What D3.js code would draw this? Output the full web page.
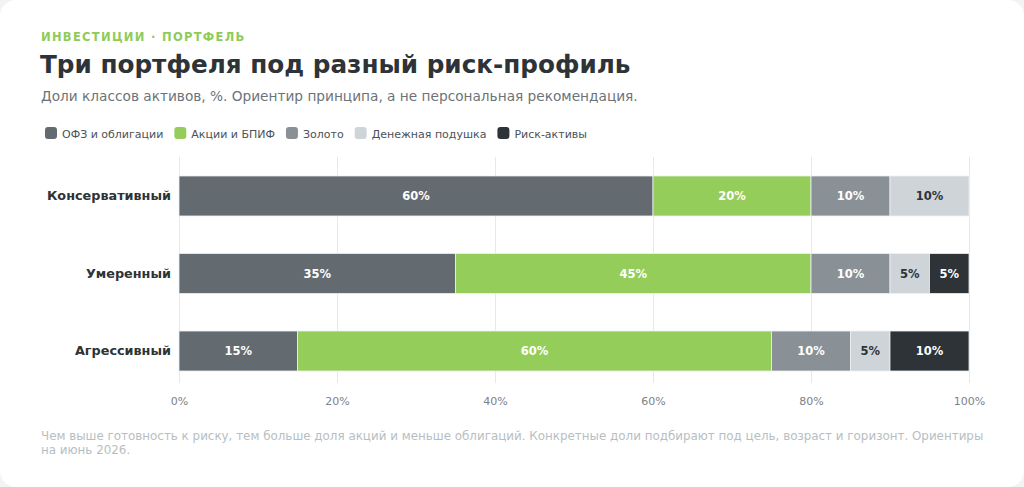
<!DOCTYPE html>
<html lang="ru">
<head>
<meta charset="utf-8">
<title>Три портфеля под разный риск-профиль</title>
<script src="https://cdn.jsdelivr.net/npm/d3@7"></script>
<style>
  html, body { margin: 0; padding: 0; background: #f1f3f5; }
  svg { display: block; font-family: "DejaVu Sans", sans-serif; }
  .grid line { stroke: #e6e8eb; stroke-width: 1; }
  .axis text { fill: #7b8287; font-size: 11px; }
</style>
</head>
<body>
<script>
const W = 1024, H = 487;

// data
const portfolios = ["Консервативный", "Умеренный", "Агрессивный"];
const assetClasses = ["ОФЗ и облигации", "Акции и БПИФ", "Золото", "Денежная подушка", "Риск-активы"];
const bonds = [60, 35, 15];
const stocks = [20, 45, 60];
const gold = [10, 10, 10];
const cash = [10, 5, 5];
const risky = [0, 5, 10];
const xTicks = [0, 20, 40, 60, 80, 100];

const colors = ["#636b70", "#95cd5b", "#8a9196", "#cfd4d9", "#2d3336"];
const labelColors = ["#fff", "#fff", "#fff", "#2d3336", "#fff"];

const series = [bonds, stocks, gold, cash, risky];
const rows = portfolios.map((p, i) => {
  const r = { name: p };
  assetClasses.forEach((a, j) => r[a] = series[j][i]);
  return r;
});
const stacked = d3.stack().keys(assetClasses)(rows);

const svg = d3.select("body").append("svg").attr("width", W).attr("height", H);

// card
svg.append("rect").attr("x", 0).attr("y", 0).attr("width", W).attr("height", H)
  .attr("rx", 16).attr("fill", "#fff");

// header
svg.append("text").attr("x", 41).attr("y", 41)
  .attr("font-size", 11.5).attr("font-weight", "bold").attr("letter-spacing", 1.3)
  .attr("fill", "#8fcb57").text("ИНВЕСТИЦИИ · ПОРТФЕЛЬ");
svg.append("text").attr("x", 40).attr("y", 73)
  .attr("font-size", 24.7).attr("font-weight", "bold")
  .attr("fill", "#2d3336").text("Три портфеля под разный риск-профиль");
svg.append("text").attr("x", 41).attr("y", 101)
  .attr("font-size", 13.7).attr("fill", "#6b7378")
  .text("Доли классов активов, %. Ориентир принципа, а не персональная рекомендация.");

// legend
let lx = 45;
assetClasses.forEach((a, j) => {
  const g = svg.append("g").attr("transform", `translate(${lx},127)`);
  g.append("rect").attr("width", 12).attr("height", 12).attr("rx", 3).attr("fill", colors[j]);
  const t = g.append("text").attr("x", 17).attr("y", 10.5)
    .attr("font-size", 11).attr("fill", "#4a5257").text(a);
  lx += 17 + t.node().getComputedTextLength() + 11;
});

// scales
const x = d3.scaleLinear().domain([0, 100]).range([179, 969]);
const y = d3.scaleBand().domain(portfolios).range([157, 390])
  .paddingInner(0.484).paddingOuter(0.245);

// grid
svg.append("g").attr("class", "grid")
  .selectAll("line").data(xTicks).join("line")
  .attr("x1", d => x(d) + 0.5).attr("x2", d => x(d) + 0.5)
  .attr("y1", 157).attr("y2", 383);

// bars
const layer = svg.append("g").selectAll("g").data(stacked).join("g")
  .attr("fill", (d, j) => colors[j]);
layer.selectAll("rect").data(d => d.filter(s => s[1] > s[0])).join("rect")
  .attr("x", d => x(d[0]))
  .attr("y", d => y(d.data.name))
  .attr("width", d => x(d[1]) - x(d[0]))
  .attr("height", y.bandwidth())
  .attr("stroke", "#eef0f2").attr("stroke-width", 0.8);

// segment labels
stacked.forEach((s, j) => {
  svg.append("g").selectAll("text").data(s.filter(d => d[1] > d[0])).join("text")
    .attr("x", d => x((d[0] + d[1]) / 2))
    .attr("y", d => y(d.data.name) + y.bandwidth() / 2)
    .attr("dy", "0.35em")
    .attr("text-anchor", "middle")
    .attr("font-size", 11.5).attr("font-weight", "bold")
    .attr("fill", labelColors[j])
    .text(d => (d[1] - d[0]) + "%");
});

// category labels
const yAxis = svg.append("g").attr("transform", "translate(179,0)")
  .call(d3.axisLeft(y).tickSize(0).tickPadding(8));
yAxis.select(".domain").remove();
yAxis.selectAll("text").attr("font-size", 12.8).attr("font-weight", "bold")
  .attr("fill", "#2d3336").attr("font-family", "DejaVu Sans, sans-serif");

// x axis
const xAxis = svg.append("g").attr("class", "axis").attr("transform", "translate(0,383)")
  .call(d3.axisBottom(x).tickValues(xTicks).tickFormat(d => d + "%").tickSize(0).tickPadding(14));
xAxis.select(".domain").remove();
xAxis.selectAll("text").attr("font-family", "DejaVu Sans, sans-serif");

// footnote with wrapping
const note = "Чем выше готовность к риску, тем больше доля акций и меньше облигаций. Конкретные доли подбирают под цель, возраст и горизонт. Ориентиры на июнь 2026.";
const ft = svg.append("text").attr("x", 41).attr("y", 440)
  .attr("font-size", 11.9).attr("fill", "#b7bec3");
let line = [], tspan = ft.append("tspan").attr("x", 41).attr("y", 440);
let ln = 0;
note.split(" ").forEach(w => {
  line.push(w);
  tspan.text(line.join(" "));
  if (tspan.node().getComputedTextLength() > 950 && line.length > 1) {
    line.pop();
    tspan.text(line.join(" "));
    line = [w];
    ln++;
    tspan = ft.append("tspan").attr("x", 41).attr("y", 440 + ln * 14).text(w);
  }
});
</script>
</body>
</html>
